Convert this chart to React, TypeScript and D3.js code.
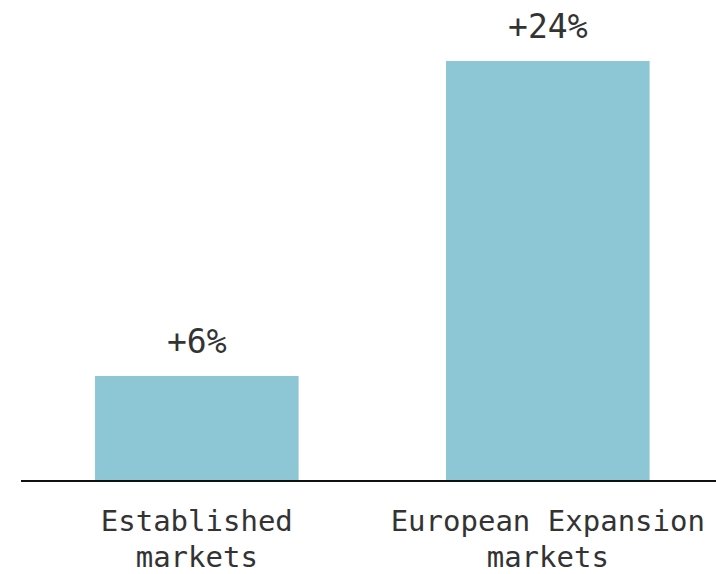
import React from "react";
import * as d3 from "d3";

const categories: string[][] = [
  ["Established", "markets"],
  ["European Expansion", "markets"],
];
const growth: number[] = [6, 24];
const valueLabels: string[] = ["+6%", "+24%"];

const W = 716;
const H = 574;
const BASE_Y = 481;
const BAR_COLOR = "#8dc6d4";
const TEXT_COLOR = "#333333";
const FONT = "'DejaVu Sans Mono', 'Liberation Mono', monospace";

export default function App() {
  const keys = categories.map((c) => c.join(" "));
  const x = d3
    .scaleBand<string>()
    .domain(keys)
    .range([21, 723.6])
    .paddingInner(0.42)
    .paddingOuter(0.2108);
  const y = d3.scaleLinear().domain([0, 24]).range([BASE_Y, 61]);

  return (
    <svg
      width={W}
      height={H}
      style={{ position: "absolute", left: 0, top: 0, background: "#fff" }}
    >
      {keys.map((k, i) => {
        const x0 = x(k)!;
        const cx = x0 + x.bandwidth() / 2;
        return (
          <g key={k}>
            <rect
              x={x0}
              y={y(growth[i])}
              width={x.bandwidth()}
              height={BASE_Y - y(growth[i])}
              fill={BAR_COLOR}
            />
            <text
              x={cx}
              y={y(growth[i]) - 23}
              textAnchor="middle"
              fontFamily={FONT}
              fontSize={33}
              fill={TEXT_COLOR}
            >
              {valueLabels[i]}
            </text>
            {categories[i].map((line, j) => (
              <text
                key={j}
                x={cx}
                y={531 + j * 36}
                textAnchor="middle"
                fontFamily={FONT}
                fontSize={29}
                fill={TEXT_COLOR}
              >
                {line}
              </text>
            ))}
          </g>
        );
      })}
      <line x1={21} x2={W} y1={BASE_Y} y2={BASE_Y} stroke="#111" strokeWidth={2} />
    </svg>
  );
}
